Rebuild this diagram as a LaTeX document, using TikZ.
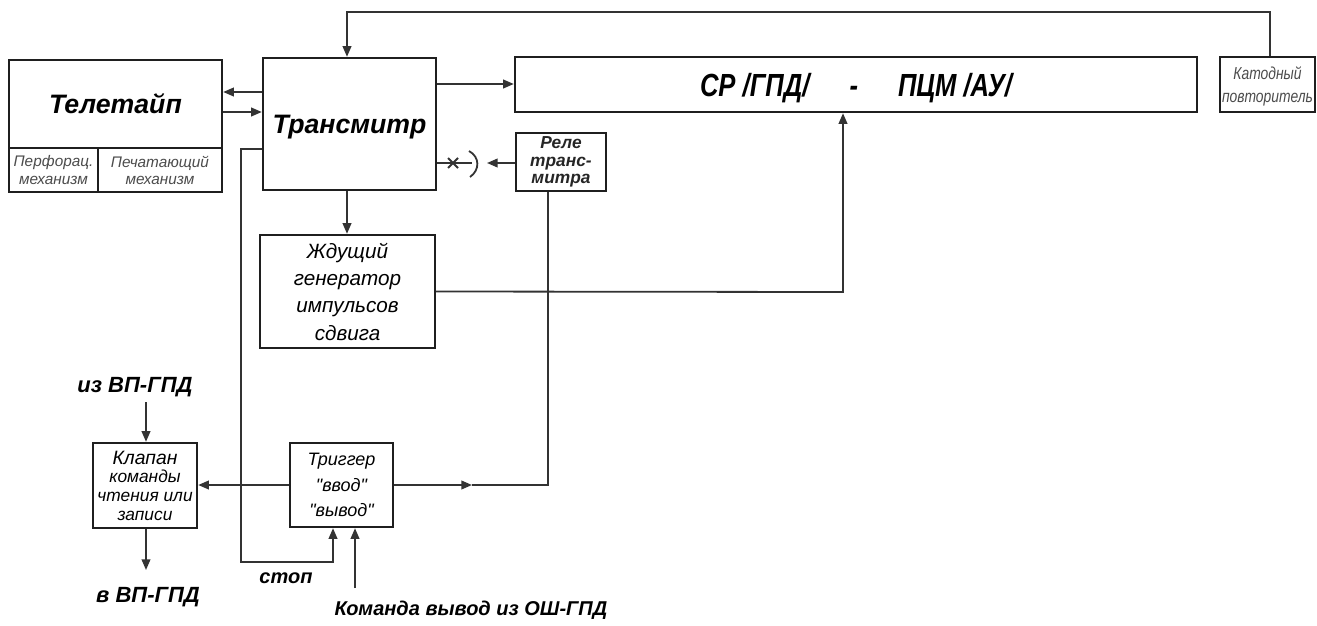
\documentclass[tikz,border=0pt]{standalone}
\usepackage{fontspec}
\setmainfont{Liberation Sans}
\newfontfamily\condfont[FakeStretch=0.8]{Liberation Sans}
\usetikzlibrary{arrows.meta}
\begin{document}
\begin{tikzpicture}[x=0.75pt,y=-0.75pt,
  box/.style={draw=black!88, line width=1.8pt, inner sep=0pt, align=center, fill=white, anchor=center},
  wire/.style={draw=black!80, line width=1.35pt},
  arr/.style={wire, -{Triangle[length=8pt,width=6.5pt]}},
  bigf/.style={font=\fontsize{20}{24}\selectfont\bfseries\itshape, text depth=0pt},
  cellf/.style={font=\fontsize{11.5}{12.8}\selectfont\itshape, text=black!70},
  srf/.style={font=\condfont\fontsize{24}{28}\selectfont\bfseries\itshape, text depth=0pt},
  katf/.style={font=\condfont\fontsize{13}{17.5}\selectfont\itshape, text=black!70, text depth=0pt},
  relef/.style={font=\fontsize{13}{13.2}\selectfont\bfseries\itshape, text=black!85},
  genf/.style={font=\fontsize{15.5}{20.5}\selectfont\itshape},
  trigf/.style={font=\fontsize{13.5}{19}\selectfont\itshape},
  klapf/.style={font=\fontsize{13}{14}\selectfont\itshape},
  lblf/.style={font=\fontsize{16.5}{20}\selectfont\bfseries\itshape, inner sep=1pt},
  stopf/.style={font=\fontsize{15}{18}\selectfont\bfseries\itshape, inner sep=1pt}
]
\useasboundingbox (0,0) rectangle (1317,625);
\fill[white] (0,0) rectangle (1317,625);

% blocks
\node[box, minimum width=159.75pt, minimum height=66pt, bigf] (tele) at (115.5,104) {Телетайп};
\node[box, minimum width=66.75pt, minimum height=33pt, cellf] (perf) at (53.5,170) {Перфорац.\\механизм};
\node[box, minimum width=93pt, minimum height=33pt, cellf] (pech) at (160,170) {Печатающий\\механизм};
\node[box, minimum width=129.75pt, minimum height=99pt, bigf] (trans) at (349.5,124) {Трансмитр};
\node[box, minimum width=511.5pt, minimum height=41.25pt, srf] (sr) at (856,84.5) {СР /ГПД/\hspace{30pt}-\hspace{30pt}ПЦМ /АУ/};
\node[box, minimum width=71.25pt, minimum height=41.25pt, katf] (kat) at (1267.5,84.5) {Катодный\\повторитель};
\node[box, minimum width=67.5pt, minimum height=43.5pt, relef] (rele) at (561,162) {Реле\\транс-\\митра};
\node[box, minimum width=131.25pt, minimum height=84.75pt, genf] (gen) at (347.5,291.5) {Ждущий\\генератор\\импульсов\\сдвига};
\node[box, minimum width=77.25pt, minimum height=63pt, trigf] (trig) at (341.5,485) {Триггер\\\textquotedbl ввод\textquotedbl\\\textquotedbl вывод\textquotedbl};
\node[box, minimum width=78pt, minimum height=63.75pt, klapf] (klap) at (145,485.5) {{\fontsize{14.5}{14}\selectfont Клапан}\\команды\\чтения или\\записи};

% free labels
\node[lblf] (izvp) at (135,387) {из ВП-ГПД};
\node[lblf] (vvp) at (148,597) {в ВП-ГПД};
\node[stopf] (stop) at (286,578) {стоп};
\node[stopf] (cmd) at (471,610) {Команда вывод из ОШ-ГПД};

% named free ends
\coordinate (izvpEnd) at (146,402);
\coordinate (vvpTip) at (146,570);
\coordinate (plugTip) at (487,163);
\coordinate (plugEnd) at (472,163);
\coordinate (trigArr) at (472,485);
\coordinate (cmdStart) at (355,588);

% teletype <-> transmitter
\draw[arr] (trans.west |- 0,92) -- (tele.east |- 0,92);
\draw[arr] (tele.east |- 0,112) -- (trans.west |- 0,112);
% transmitter -> SR
\draw[arr] (trans.east |- 0,84) -- (sr.west |- 0,84);
% feedback from cathode follower
\draw[arr] (kat.north -| 1270,0) -- (1270,12) -- (347,12) -- (trans.north -| 347,0);
% relay -> transmitter (plug)
\draw[arr] (rele.west |- plugTip) -- (plugTip);
\draw[wire] (trans.east |- plugEnd) -- (plugEnd);
\draw[wire] (469,151) .. controls (480,157) and (480,170) .. (470,177);
\draw[wire] (448,158) -- (458,168) (448,168) -- (458,158);
% transmitter -> generator
\draw[arr] (trans.south -| 347,0) -- (gen.north -| 347,0);
% generator -> SR
\draw[arr] (gen.east) -- (843,292) -- (sr.south -| 843,0);
% trigger -> relay
\draw[arr] (trig.east) -- (trigArr);
\draw[wire] (trigArr) -- (548,485) -- (rele.south -| 548,0);
% stop line
\draw[arr] (trans.west |- 0,149) -- (241,149) -- (241,562) -- (333,562) -- (trig.south -| 333,0);
% trigger -> klapan
\draw[arr] (trig.west) -- (klap.east |- trig.west);
% klapan in/out
\draw[arr] (izvpEnd) -- (klap.north -| izvpEnd);
\draw[arr] (klap.south -| vvpTip) -- (vvpTip);
% command
\draw[arr] (cmdStart) -- (trig.south -| cmdStart);
\end{tikzpicture}
\end{document}
